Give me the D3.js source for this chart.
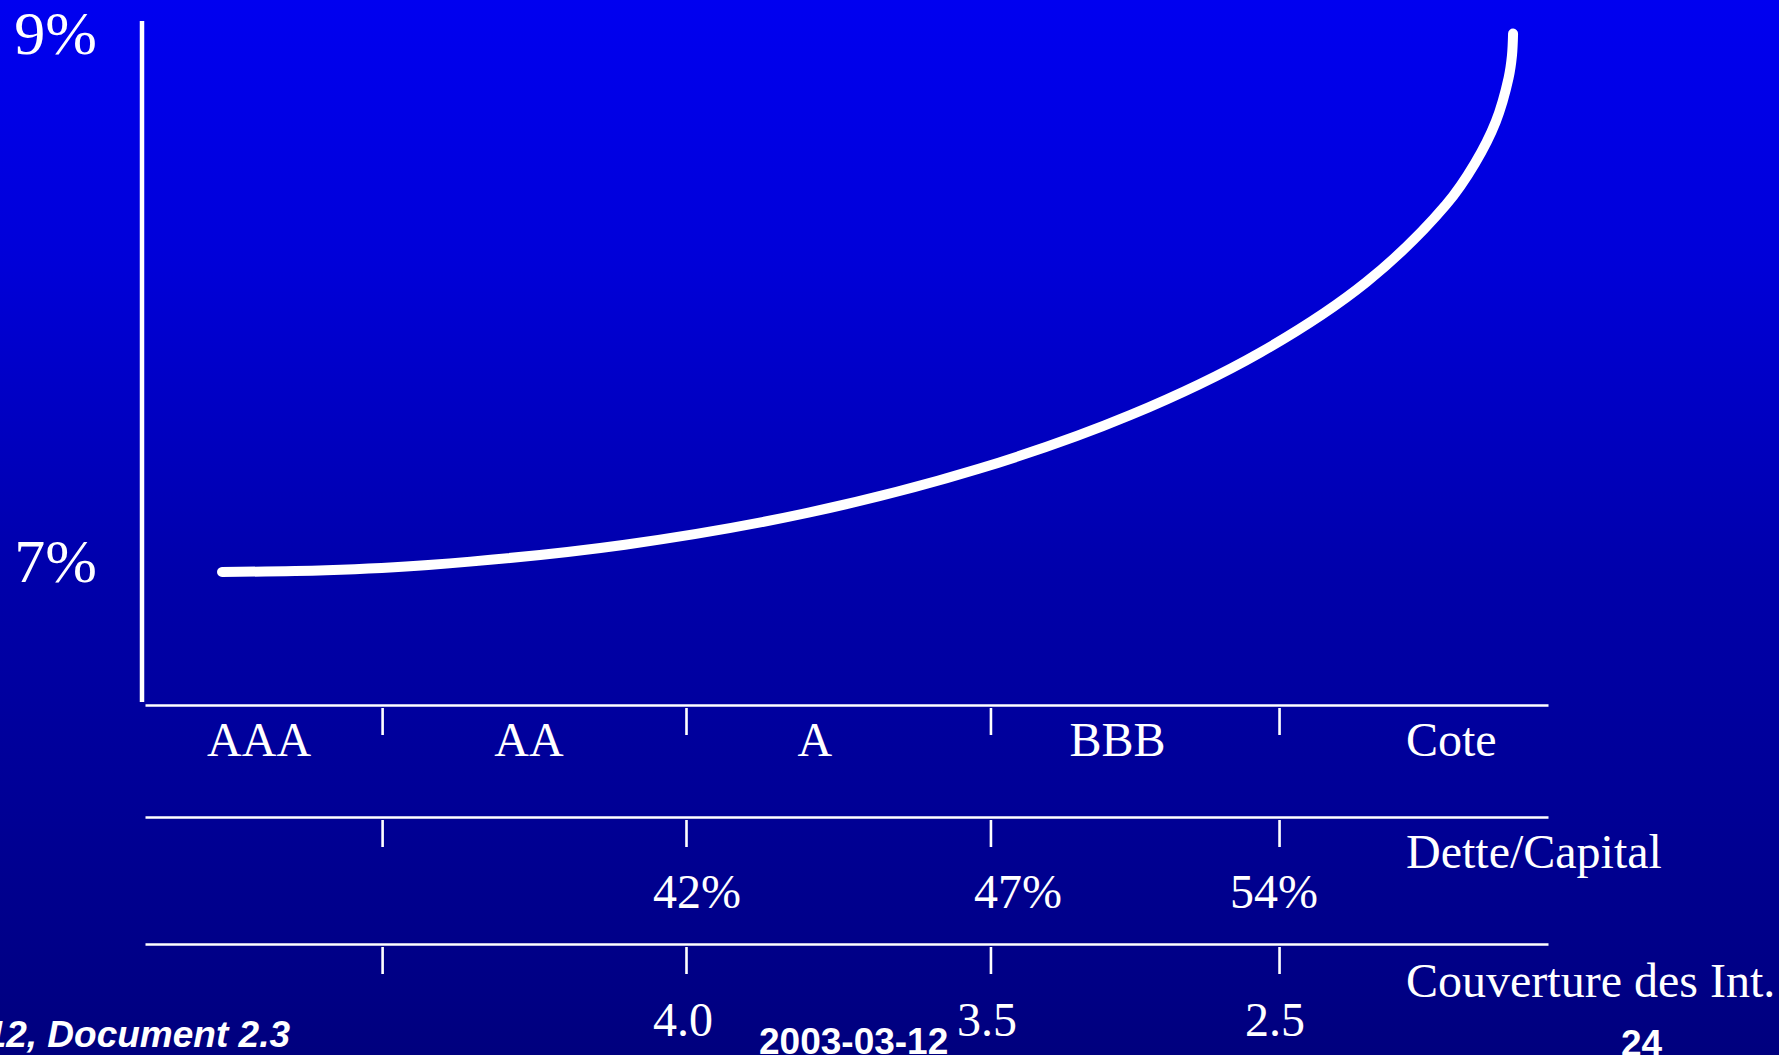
<!DOCTYPE html>
<html>
<head>
<meta charset="utf-8">
<script src="https://cdn.jsdelivr.net/npm/d3@7"></script>
<style>
  html, body { margin: 0; padding: 0; background: #000080; overflow: hidden; }
  svg { display: block; }
</style>
</head>
<body>
<svg id="chart" width="1779" height="1055"></svg>
<script>
// Cost of debt against rating: position along the rating axis (0-100) and yield (%)
const curveX = [5.49, 12.91, 20.19, 34.21, 47.37, 59.43, 70.21, 79.48, 87.06,
                92.73, 94.78, 96.28, 97.19, 97.43, 97.51];
const curveY = [6.955, 6.961, 6.981, 7.058, 7.180, 7.345, 7.548, 7.785, 8.052,
                8.344, 8.500, 8.659, 8.824, 8.908, 8.992];

// y-axis labels
const yTicks = [7, 9];

// Rating bands: boundaries along the axis and where each rating name sits
const bandBounds = [16.9, 38.56, 60.26, 80.83];
const ratings = ["AAA", "AA", "A", "BBB"];
const ratingAt = [8.13, 27.37, 47.75, 69.31];

// Debt / capital ratios at the band boundaries
const debtCapital = ["42%", "47%", "54%"];
const debtCapitalAt = [39.34, 62.22, 80.47];

// Interest coverage at the band boundaries
const coverage = ["4.0", "3.5", "2.5"];
const coverageAt = [38.34, 60.01, 80.54];

const rowTitles = ["Cote", "Dette/Capital", "Couverture des Int."];

const W = 1779, H = 1055;
const svg = d3.select("#chart");

// Background: blue fading to navy
const defs = svg.append("defs");
const grad = defs.append("linearGradient")
  .attr("id", "bg").attr("x1", 0).attr("y1", 0).attr("x2", 0).attr("y2", 1);
[[0, "#0000f0"], [0.25, "#0000d8"], [0.55, "#0000aa"], [0.8, "#000092"], [1, "#00007e"]]
  .forEach(([o, c]) => grad.append("stop").attr("offset", o).attr("stop-color", c));
svg.append("rect").attr("width", W).attr("height", H).attr("fill", "url(#bg)");

const x = d3.scaleLinear().domain([0, 100]).range([145, 1548]);
const y = d3.scaleLinear().domain([7, 9]).range([560, 31.5]);

const serif = "'Liberation Serif', 'Times New Roman', serif";
const sans = "'Liberation Sans', Arial, sans-serif";

// Vertical axis
svg.append("line")
  .attr("x1", 142).attr("x2", 142).attr("y1", 21).attr("y2", 702)
  .attr("stroke", "#fff").attr("stroke-width", 4.5);

// y labels
svg.selectAll("text.ylab").data(yTicks).join("text")
  .attr("class", "ylab")
  .attr("x", 97).attr("y", d => y(d))
  .attr("dy", "0.36em")
  .attr("text-anchor", "end")
  .attr("font-family", serif).attr("font-size", 62).attr("fill", "#fff")
  .text(d => d + "%");

// The three horizontal scales with their boundary ticks
const rows = [705, 817, 944];
rows.forEach((ry, i) => {
  const axis = d3.axisBottom(x)
    .tickValues(bandBounds)
    .tickSizeInner(0).tickSizeOuter(0)
    .tickFormat("");
  const g = svg.append("g").attr("transform", `translate(0,${ry})`).call(axis);
  g.select(".domain").attr("stroke", "#fff").attr("stroke-width", 2.6);
  g.selectAll(".tick line")
    .attr("y1", 3).attr("y2", 30)
    .attr("stroke", "#fff").attr("stroke-width", 2.6);
  g.selectAll(".tick text").remove();

  svg.append("text")
    .attr("x", 1406).attr("y", [756, 868, 997][i])
    .attr("font-family", serif).attr("font-size", 48).attr("fill", "#fff")
    .text(rowTitles[i]);
});

// Rating names
svg.selectAll("text.rating").data(ratings).join("text")
  .attr("class", "rating")
  .attr("x", (d, i) => x(ratingAt[i])).attr("y", 756)
  .attr("text-anchor", "middle")
  .attr("font-family", serif).attr("font-size", 48).attr("fill", "#fff")
  .text(d => d);

svg.selectAll("text.dc").data(debtCapital).join("text")
  .attr("class", "dc")
  .attr("x", (d, i) => x(debtCapitalAt[i])).attr("y", 908)
  .attr("text-anchor", "middle")
  .attr("font-family", serif).attr("font-size", 48).attr("fill", "#fff")
  .text(d => d);

svg.selectAll("text.cov").data(coverage).join("text")
  .attr("class", "cov")
  .attr("x", (d, i) => x(coverageAt[i])).attr("y", 1036)
  .attr("text-anchor", "middle")
  .attr("font-family", serif).attr("font-size", 48).attr("fill", "#fff")
  .text(d => d);

// Yield curve
const pts = curveX.map((v, i) => [v, curveY[i]]);
const line = d3.line()
  .x(d => x(d[0])).y(d => y(d[1]))
  .curve(d3.curveCatmullRom.alpha(0.5));
svg.append("path")
  .attr("d", line(pts))
  .attr("fill", "none")
  .attr("stroke", "#fff")
  .attr("stroke-width", 10)
  .attr("stroke-linecap", "round")
  .attr("stroke-linejoin", "round");

// Footer
const footer = svg.append("g")
  .attr("font-family", sans).attr("font-weight", "bold").attr("font-size", 37).attr("fill", "#fff");
footer.append("text").attr("x", 290).attr("y", 1047)
  .attr("text-anchor", "end").attr("font-style", "italic")
  .text("12, Document 2.3");
footer.append("text").attr("x", 759).attr("y", 1054).text("2003-03-12");
footer.append("text").attr("x", 1621).attr("y", 1056).text("24");
</script>
</body>
</html>
